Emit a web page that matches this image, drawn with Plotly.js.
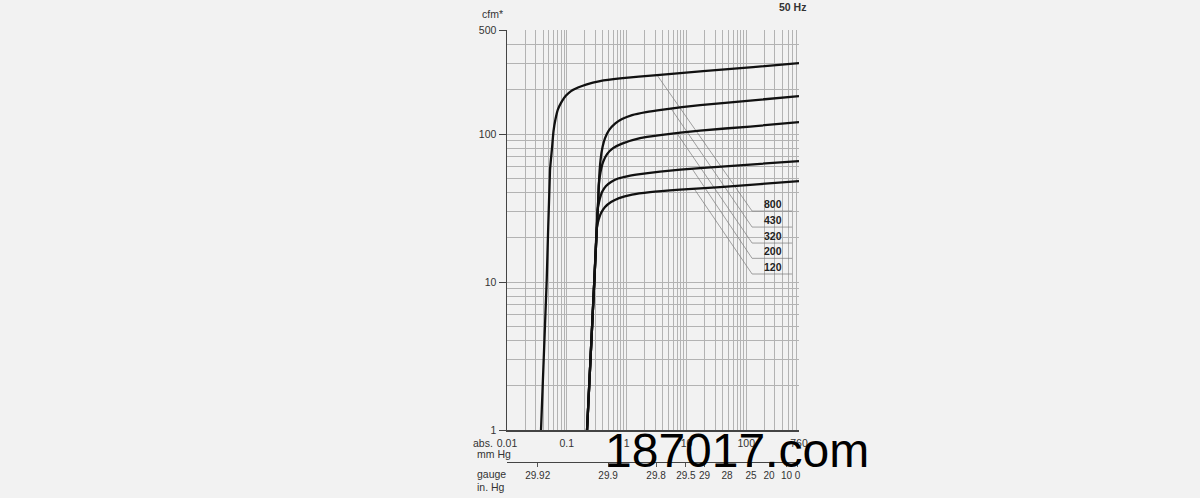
<!DOCTYPE html>
<html>
<head>
<meta charset="utf-8">
<script src="https://cdn.plot.ly/plotly-3.0.1.min.js"></script>
<style>
  html, body { margin: 0; padding: 0; background: #f2f2f2; }
  #plot { width: 1200px; height: 498px; }
</style>
</head>
<body>
<div id="plot"></div>
<script>
// pumping speed curves, abs. pressure in mm Hg vs. cfm
const models = ['800', '430', '320', '200', '120'];

const press800 = [0.03703, 0.04612, 0.05237, 0.05655, 0.05991, 0.06471, 0.07124, 0.08219, 0.09696, 0.1175, 0.1539, 0.2095, 0.3591, 0.7756, 3.224, 18.95, 129.9, 760];
const flow800  = [1, 10.31, 57.1, 80.4, 104.8, 126.3, 147.5, 165.8, 182.0, 195.2, 206.2, 216.1, 228.1, 237.9, 250.4, 266.6, 283.6, 301.8];

const press430 = [0.2177, 0.2884, 0.3162, 0.3350, 0.3495, 0.3660, 0.3954, 0.4353, 0.5078, 0.6397, 0.8378, 1.231, 2.110, 4.062, 16.88, 115.8, 760];
const flow430  = [1, 10.31, 22.46, 35.82, 52.84, 66.73, 81.68, 93.97, 106.4, 117.7, 126.3, 134.4, 140.8, 146.4, 157.0, 168.4, 180.6];

const press320 = [0.2177, 0.2884, 0.3162, 0.3350, 0.3415, 0.3660, 0.4031, 0.4702, 0.5924, 0.8378, 1.675, 3.618, 16.88, 115.8, 760];
const flow320  = [1, 10.31, 22.46, 35.82, 45.23, 55.37, 64.69, 73.25, 80.41, 86.27, 93.97, 98.45, 105.6, 112.4, 120.5];

const press200 = [0.2177, 0.2884, 0.3162, 0.3262, 0.3522, 0.3878, 0.4522, 0.5483, 0.7182, 1.055, 1.675, 3.618, 16.88, 115.8, 760];
const flow200  = [1, 10.31, 22.46, 30.65, 35.82, 40.56, 44.53, 47.39, 50.05, 52.03, 53.66, 55.79, 58.92, 62.21, 65.70];

const press120 = [0.2177, 0.2884, 0.3175, 0.3389, 0.3731, 0.4353, 0.5483, 0.7463, 1.231, 2.462, 7.816, 36.47, 170.1, 760];
const flow120  = [1, 10.31, 23.17, 26.24, 29.26, 32.13, 34.71, 36.95, 39.01, 40.56, 42.17, 43.85, 45.95, 48.14];

// axis ticks
const absTicks = [0.01, 0.1, 1, 10, 100, 760];
const absText = ['0.01', '0.1', '1', '10', '100', '760'];
const gaugeText = ['29.92', '29.9', '29.8', '29.5', '29', '28', '25', '20', '10', '0'];
const gaugeAt = [0.0326, 0.489, 3.10, 9.8, 20.0, 47.7, 120, 240, 470, 720];
const flowTicks = [1, 10, 100, 500];

// leader lines from each curve to its label
const leadStartX = [3.224, 5.527, 6.963, 12.41, 13.40];
const leadStartY = [250.4, 148.7, 100.8, 58.28, 42.77];
const leadBendX = 125;
const leadBendY = [30.18, 23.52, 18.34, 14.46, 11.33];
const leadEndX = 583;

const pressures = [press800, press430, press320, press200, press120];
const flows = [flow800, flow430, flow320, flow200, flow120];

const GRID = '#b3b3b3';
const INK = '#333';

let traces = [];
for (let i = 0; i < models.length; i++) {
  traces.push({
    x: [leadStartX[i], leadBendX, leadEndX],
    y: [leadStartY[i], leadBendY[i], leadBendY[i]],
    mode: 'lines', type: 'scatter', hoverinfo: 'skip',
    line: {color: '#7a7a7a', width: 0.7}
  });
}
for (let i = 0; i < models.length; i++) {
  traces.push({
    x: pressures[i], y: flows[i], name: models[i],
    mode: 'lines', type: 'scatter',
    line: {color: '#111', width: 2.3, shape: 'spline', smoothing: 0.5}
  });
}
// empty trace so the gauge scale (x2) gets drawn
traces.push({x: [], y: [], xaxis: 'x2', yaxis: 'y', mode: 'lines', type: 'scatter'});

let annotations = [];
for (let i = 0; i < models.length; i++) {
  annotations.push({
    xref: 'x', yref: 'y', x: Math.log10(leadEndX), y: Math.log10(leadBendY[i]),
    xanchor: 'right', yanchor: 'bottom', xshift: -8, yshift: -1,
    text: '<b>' + models[i] + '</b>', showarrow: false,
    font: {size: 10.5, color: '#222'}
  });
}
const side = [
  {text: 'cfm*', x: -0.092, y: 1.036, xanchor: 'left'},
  {text: '<b>50 Hz</b>', x: 1.031, y: 1.052, xanchor: 'right'},
  {text: 'abs.', x: -0.04, y: 0.0614, xanchor: 'right'},
  {text: 'mm Hg', x: -0.11, y: 0.036, xanchor: 'left'},
  {text: 'gauge', x: -0.11, y: -0.008, xanchor: 'left'},
  {text: 'in. Hg', x: -0.11, y: -0.038, xanchor: 'left'}
];
side.forEach(a => annotations.push({
  xref: 'paper', yref: 'paper', x: a.x, y: a.y, xanchor: a.xanchor, yanchor: 'middle',
  text: a.text, showarrow: false, font: {size: 10.5, color: INK}
}));
// site mark printed across the bottom of the picture
annotations.push({
  xref: 'paper', yref: 'paper', x: 0.788, y: 0.045, xanchor: 'center', yanchor: 'middle',
  text: '187017.com', showarrow: false,
  font: {family: 'Liberation Sans, Arial, sans-serif', size: 48, color: '#000'}
});

var layout = {
  width: 1200, height: 498,
  margin: {l: 507, r: 401, t: 30, b: 28},
  paper_bgcolor: '#f2f2f2', plot_bgcolor: '#f2f2f2',
  showlegend: false,
  font: {family: 'Liberation Sans, Arial, sans-serif', size: 10.5, color: INK},
  xaxis: {
    type: 'log', range: [-2, Math.log10(760)], anchor: 'y',
    tickmode: 'array', tickvals: absTicks, ticktext: absText, tickangle: 0,
    ticks: '', ticklabelstandoff: 3,
    showgrid: true, gridcolor: GRID, gridwidth: 1,
    minor: {dtick: 'D1', showgrid: true, gridcolor: GRID, gridwidth: 1},
    showline: true, linecolor: '#444', linewidth: 1.5, zeroline: false
  },
  xaxis2: {
    type: 'log', range: [-2, Math.log10(760)], overlaying: 'x',
    anchor: 'free', position: 0.0193, side: 'bottom',
    tickmode: 'array', tickvals: gaugeAt, ticktext: gaugeText, tickangle: 0,
    tickfont: {size: 10},
    ticks: 'outside', ticklen: 4, tickcolor: '#555',
    showgrid: false, showline: true, linecolor: '#444', linewidth: 1.2, zeroline: false
  },
  yaxis: {
    type: 'log', range: [0, Math.log10(505)], domain: [0.0909, 1],
    tickmode: 'array', tickvals: flowTicks, ticktext: flowTicks.map(String),
    ticks: 'outside', ticklen: 7, tickcolor: '#444',
    showgrid: true, gridcolor: GRID, gridwidth: 1,
    minor: {dtick: 'D1', showgrid: true, gridcolor: GRID, gridwidth: 1},
    showline: true, linecolor: '#444', linewidth: 1.5, zeroline: false
  },
  annotations: annotations
};

Plotly.newPlot('plot', traces, layout, {staticPlot: true});
</script>
</body>
</html>
